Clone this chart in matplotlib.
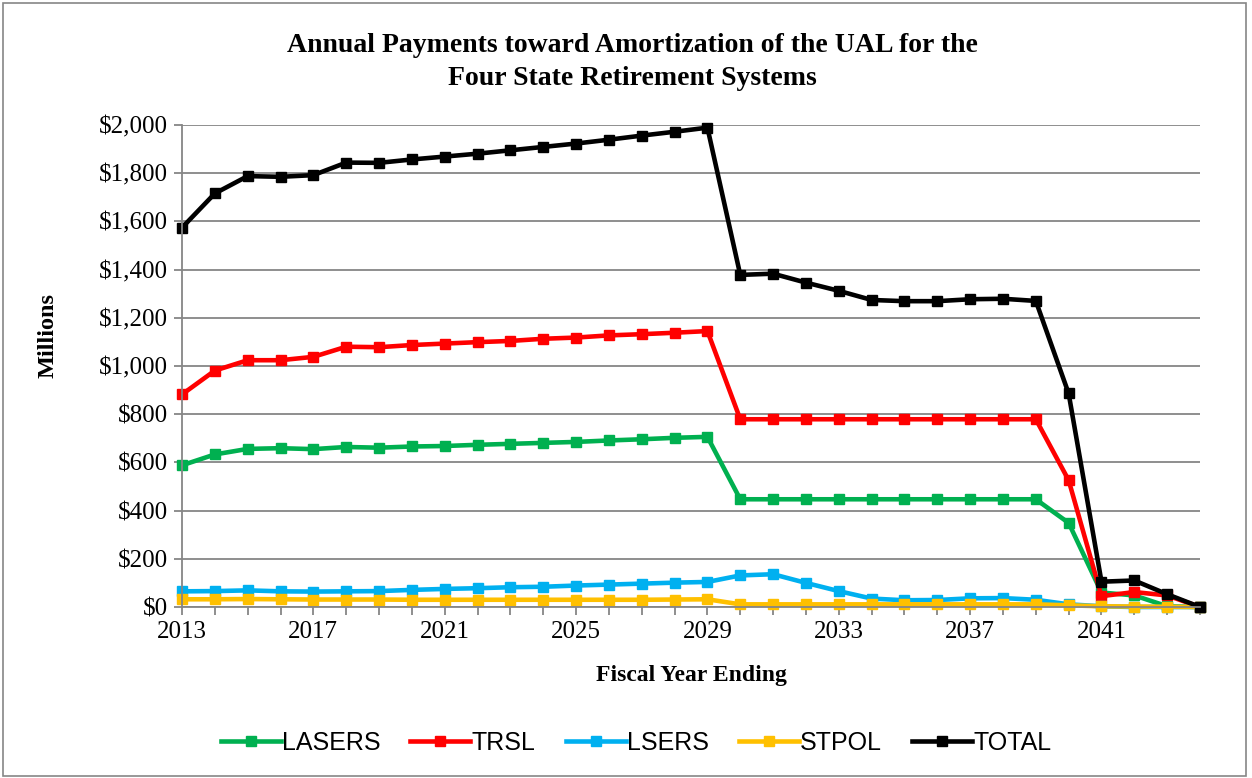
import matplotlib
matplotlib.use("Agg")
import matplotlib.pyplot as plt
from matplotlib.patches import Rectangle
from matplotlib.ticker import FuncFormatter, MultipleLocator

# fiscal years and payments ($ millions)
years = list(range(2013, 2045))

lasers = [588, 633, 656, 659, 655, 664, 661, 666, 668, 673, 677, 681, 685, 691, 696, 702,
          706, 447, 447, 447, 447, 447, 447, 447, 447, 447, 447, 349, 60, 48, 3, 0]
trsl = [882, 981, 1024, 1024, 1038, 1080, 1078, 1087, 1093, 1099, 1104, 1113, 1118, 1127, 1132, 1138,
        1145, 779, 779, 779, 779, 779, 779, 779, 779, 779, 779, 526, 45, 62, 48, 0]
lsers = [65, 66, 69, 65, 64, 65, 66, 71, 75, 78, 82, 84, 89, 93, 97, 101,
         104, 131, 136, 100, 66, 35, 28, 29, 36, 37, 30, 11, 3, 0, 0, 0]
stpol = [32, 32, 33, 32, 31, 31, 31, 30, 30, 30, 30, 30, 30, 30, 30, 31,
         32, 11, 11, 11, 11, 11, 11, 11, 11, 11, 11, 7, 3, 2, 1, 0]
total = [1574, 1716, 1788, 1785, 1792, 1844, 1843, 1857, 1869, 1881, 1895, 1909, 1923, 1939, 1956, 1972,
         1989, 1378, 1383, 1346, 1312, 1274, 1269, 1269, 1277, 1279, 1270, 886, 105, 110, 53, 0]

series = [
    ("LASERS", lasers, "#00B050"),
    ("TRSL", trsl, "#FF0000"),
    ("LSERS", lsers, "#00B0F0"),
    ("STPOL", stpol, "#FFC000"),
    ("TOTAL", total, "#000000"),
]

W, H = 1252, 778
fig = plt.figure(figsize=(W / 100, H / 100), dpi=100)
ax = fig.add_axes([182 / W, 1 - 607 / H, (1200 - 182) / W, (607 - 125) / H])

serif = "Liberation Serif"
for name, vals, col in series:
    ax.plot(years, vals, color=col, lw=3.3, marker="s", markersize=7,
            solid_joinstyle="miter", label=name, clip_on=False)

ax.set_xlim(2013, 2044)
ax.set_ylim(0, 2000)
ax.yaxis.set_major_locator(MultipleLocator(200))
ax.yaxis.set_major_formatter(FuncFormatter(lambda v, p: "${:,.0f}".format(v)))
ax.xaxis.set_major_locator(MultipleLocator(1))
ax.xaxis.set_major_formatter(FuncFormatter(lambda v, p: str(int(v)) if (int(v) - 2013) % 4 == 0 else ""))

ax.grid(axis="y", color="#868686", lw=1.3)
ax.set_axisbelow(True)
for s in ["top", "right"]:
    ax.spines[s].set_visible(False)
for s in ["left", "bottom"]:
    ax.spines[s].set_color("#868686")
    ax.spines[s].set_linewidth(1.3)
ax.tick_params(axis="both", colors="#868686", labelcolor="black", length=6, width=1.3,
               labelsize=18)
ax.tick_params(axis="x", pad=4)
ax.tick_params(axis="y", pad=4)
for lab in ax.get_xticklabels() + ax.get_yticklabels():
    lab.set_fontfamily(serif)

fig.text(632 / W, 1 - 62 / H,
         "Annual Payments toward Amortization of the UAL for the\nFour State Retirement Systems",
         ha="center", va="center", fontsize=20, fontweight="bold", family=serif, linespacing=1.38)
fig.text(691 / W, 1 - 675 / H, "Fiscal Year Ending", ha="center", va="center",
         fontsize=17, fontweight="bold", family=serif)
fig.text(48 / W, 1 - 335 / H, "Millions", ha="center", va="center", rotation=90,
         fontsize=17.5, fontweight="bold", family=serif)

fig.legend(loc="center", bbox_to_anchor=(636 / W, 1 - 743 / H), ncol=5, frameon=False,
           prop={"family": "Liberation Sans", "size": 18}, handlelength=2.4,
           handletextpad=0.05, columnspacing=1.2)

fig.patches.append(Rectangle((3 / W, 2 / H), (1246 - 3) / W, (775 - 2) / H,
                             transform=fig.transFigure, fill=False, ec="#868686", lw=1.2))

fig.savefig("out.png", dpi=100)
